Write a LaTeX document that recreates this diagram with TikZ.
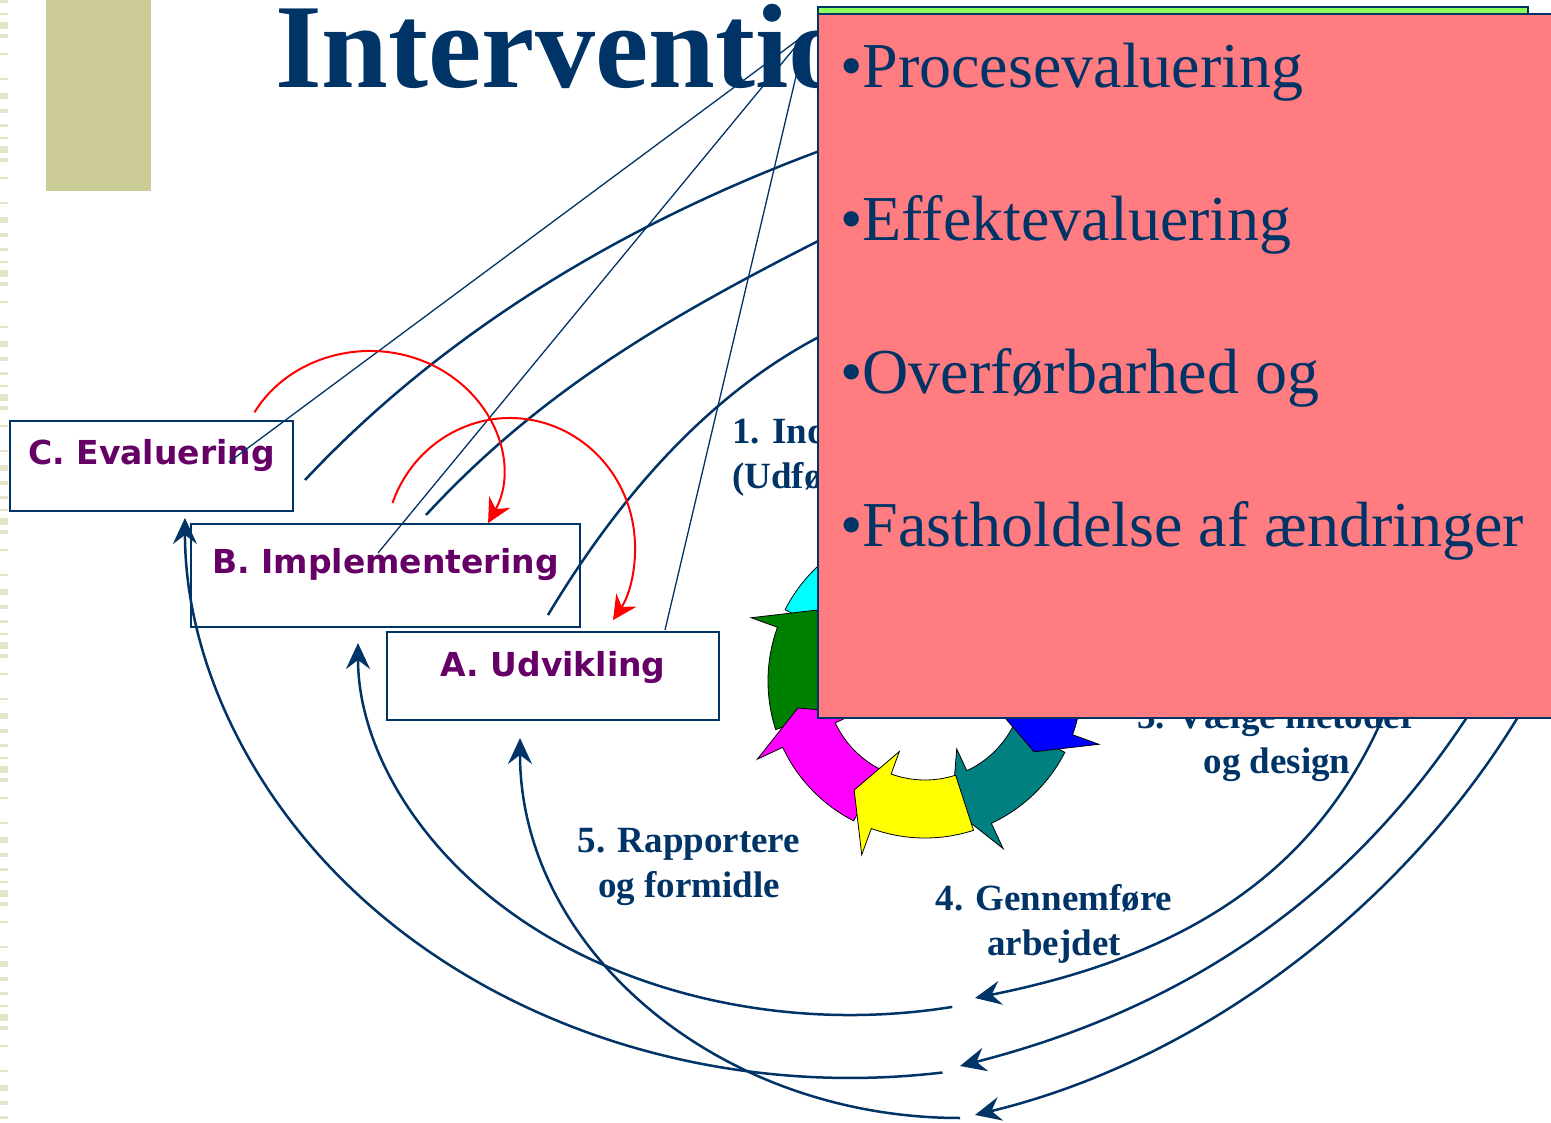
\documentclass[tikz,border=0pt]{standalone}
\usepackage{fontspec}
\setmainfont{Liberation Serif}
\newfontfamily\boxfont{DejaVu Sans}
\usepackage{xcolor}
\usepackage{tikz}
\usetikzlibrary{arrows.meta,calc}

\definecolor{slidenavy}{RGB}{0,51,102}
\definecolor{plum}{RGB}{102,0,102}
\definecolor{salmonbox}{RGB}{255,124,128}
\definecolor{limebar}{RGB}{140,255,92}
\definecolor{olivebar}{RGB}{204,204,153}
\definecolor{stripebar}{RGB}{229,228,200}
\definecolor{ringgreen}{RGB}{0,128,0}
\definecolor{ringteal}{RGB}{0,128,128}
\definecolor{ringcyan}{RGB}{0,255,255}
\definecolor{ringmagenta}{RGB}{255,0,255}
\definecolor{ringyellow}{RGB}{255,255,0}
\definecolor{ringblue}{RGB}{0,0,255}
\definecolor{ringorange}{RGB}{255,153,0}
\definecolor{ringred}{RGB}{255,0,0}

\begin{document}
\begin{tikzpicture}[x=1pt,y=-1pt,
  phase/.style={draw=slidenavy,line width=2.5pt,text=plum,inner sep=0pt,anchor=base,
    font=\boxfont\bfseries\fontsize{33}{33}\selectfont},
  steplabel/.style={text=slidenavy,inner sep=0pt,align=center,
    font=\bfseries\fontsize{37}{45}\selectfont},
  ringpiece/.style={draw=black,line width=0.8pt},
  thinlink/.style={slidenavy,line width=1.3pt},
  feedback/.style={slidenavy,line width=2.5pt},
  returnarc/.style={slidenavy,line width=2.5pt,-{Stealth[length=26pt,width=24pt,inset=9pt]}},
  redhop/.style={red,line width=2pt,-{Stealth[length=24pt,width=24pt,inset=8pt]}}]
\useasboundingbox (0,0) rectangle (1551,1123);
\fill[white] (0,0) rectangle (1551,1123);

% slide decoration
\foreach \k in {0,...,9}
  \foreach \y/\h in {0/3,13/2,22/7,34/4,53/2,78/2,93/6,109/4}
    \fill[stripebar] (0,{\k*124+\y}) rectangle (8,{\k*124+\y+\h});
\fill[olivebar] (46,0) rectangle (151,191);

\node[anchor=base west,inner sep=0pt,text=slidenavy,font=\bfseries\fontsize{120}{120}\selectfont] (title) at (275,88) {Interventio};

% cycle of arrows
\begin{scope}[shift={(925,681)}]
\foreach \a/\c in {78/ringteal,33/ringblue,348/ringorange,303/ringred,258/ringcyan,213/ringgreen,168/ringmagenta,123/ringyellow}
  \filldraw[ringpiece,fill=\c] (\a-51:99) -- (\a-51:157) arc[start angle=\a-51,end angle=\a-13,radius=157]
    -- (\a-13:185) -- (\a:130) -- (\a-13:75) -- (\a-13:99)
    arc[start angle=\a-13,end angle=\a-51,radius=99] -- cycle;
\end{scope}

\node[steplabel,anchor=base west,align=left] (step1) at (732,488) {1. Ind\\(Udfø};
\node[steplabel,anchor=base] (step3) at (1277,773) {3. Vælge metoder\\og design};
\node[steplabel,anchor=base] (step4) at (1054,955) {4. Gennemføre\\arbejdet};
\node[steplabel,anchor=base] (step5) at (689,897) {5. Rapportere\\og formidle};

% phases
\node[phase,minimum width=283pt,text height=43pt,text depth=47pt] (evaluering) at (151.5,464) {C. Evaluering};
\node[phase,minimum width=389pt,text height=49pt,text depth=54pt] (implementering) at (385.5,573) {B. Implementering};
\node[phase,minimum width=332pt,text height=44pt,text depth=44pt] (udvikling) at (553,676) {A. Udvikling};

\coordinate (hub) at (806,34);
\coordinate (cTail) at (229,462);
\coordinate (bTail) at (378,553);
\coordinate (aTail) at (665,630);
\draw[thinlink] (cTail) -- (hub);
\draw[thinlink] (bTail) -- (hub);
\draw[thinlink] (aTail) -- (hub);

\coordinate (cOut) at (305,480);
\coordinate (bOut) at (426,515);
\coordinate (aOut) at (548,615);
\coordinate (cUnder) at (850,140);
\coordinate (bUnder) at (850,225);
\coordinate (aUnder) at (850,322);
\draw[feedback] (cOut) .. controls (455,320) and (650,210) .. (cUnder);
\draw[feedback] (bOut) .. controls (546,385) and (680,310) .. (bUnder);
\draw[feedback] (aOut) .. controls (638,465) and (740,370) .. (aUnder);

\coordinate (rInner) at (1392,695);
\coordinate (rMid) at (1478,700);
\coordinate (rOuter) at (1528,700);
\coordinate (tipB) at (975,998);
\coordinate (tipC) at (960,1066);
\coordinate (tipA) at (975,1115);
\draw[returnarc] (rInner) .. controls (1327,865) and (1195,954) .. (tipB);
\draw[returnarc] (rMid) .. controls (1368,875) and (1210,1002) .. (tipC);
\draw[returnarc] (rOuter) .. controls (1419,890) and (1215,1057) .. (tipA);

\coordinate (gapB) at (952.3,1006.9);
\coordinate (gapC) at (942.5,1072.5);
\coordinate (gapA) at (960,1118);
\draw[returnarc] (gapC) arc[start angle=82,end angle=180,x radius=665,y radius=560];
\draw[returnarc] (gapB) arc[start angle=78,end angle=180,x radius=492,y radius=372];
\draw[returnarc] (gapA) arc[start angle=90,end angle=180,x radius=440,y radius=380];

\coordinate (cHop) at (254.5,412.3);
\coordinate (bHop) at (392.5,502.9);
\draw[redhop] (cHop) arc[start angle=-151,end angle=26.5,x radius=132,y radius=119];
\draw[redhop] (bHop) arc[start angle=-160,end angle=34.5,x radius=125,y radius=129];

% notes panel
\filldraw[fill=limebar,draw=slidenavy,line width=1.5pt] (818,7) rectangle (1528,15);
\filldraw[fill=salmonbox,draw=slidenavy,line width=2pt] (818,14) rectangle (1562,718);
\node[anchor=base west,align=left,inner sep=0pt,text=slidenavy,font=\fontsize{64}{153}\selectfont] (notes) at (840,546)
  {•Procesevaluering\\•Effektevaluering\\•Overførbarhed og\\•Fastholdelse af ændringer};
\end{tikzpicture}
\end{document}
